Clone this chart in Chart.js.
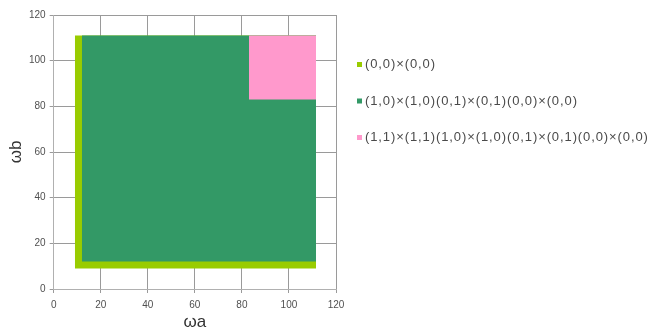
<!DOCTYPE html>
<html>
<head>
<meta charset="utf-8">
<script src="https://cdn.jsdelivr.net/npm/chart.js@4/dist/chart.umd.min.js"></script>
<style>
  html, body { margin: 0; padding: 0; background: #ffffff; }
  #wrap { width: 666px; height: 331px; }
</style>
</head>
<body>
<div id="wrap"><canvas id="c" width="666" height="331"></canvas></div>
<script>
// Region labels, colours and extents [ωa min, ωa max, ωb min, ωb max]
const regionLabels = [
  '(0,0)×(0,0)',
  '(1,0)×(1,0)(0,1)×(0,1)(0,0)×(0,0)',
  '(1,1)×(1,1)(1,0)×(1,0)(0,1)×(0,1)(0,0)×(0,0)'
];
const regionColors = ['#99cc00', '#339966', '#ff99cc'];
const xMin = [9, 12, 83];
const xMax = [111.5, 111.5, 111.5];
const yMin = [9, 12, 83];
const yMax = [111, 111, 111];

const axisMin = 0;
const axisMax = 120;
const axisStep = 20;

// Each region is a top edge filled down to its lower bound.
const datasets = regionLabels.map((label, i) => ({
  label: label,
  data: [{ x: xMin[i], y: yMax[i] }, { x: xMax[i], y: yMax[i] }],
  backgroundColor: regionColors[i],
  borderColor: regionColors[i],
  borderWidth: 0,
  pointRadius: 0,
  pointHoverRadius: 0,
  fill: { value: yMin[i] },
  tension: 0,
  order: regionLabels.length - i
}));

// Legend drawn in the right-hand margin, one row per region.
const sideLegend = {
  id: 'sideLegend',
  afterDraw(chart, args, opts) {
    const ctx = chart.ctx;
    ctx.save();
    ctx.font = opts.font;
    ctx.letterSpacing = opts.spacing;
    ctx.textBaseline = 'middle';
    ctx.textAlign = 'left';
    chart.data.datasets.forEach((ds, i) => {
      const y = opts.top + i * opts.rowGap;
      ctx.fillStyle = ds.backgroundColor;
      ctx.fillRect(opts.left, y - opts.box / 2, opts.box, opts.box);
      ctx.fillStyle = opts.color;
      ctx.fillText(ds.label, opts.left + opts.box + opts.gap, y);
    });
    ctx.restore();
  }
};

const gridColor = '#9a9a9a';
const tickFont = { family: 'Liberation Sans', size: 10 };
const titleFont = { family: 'Liberation Sans', size: 17, lineHeight: 1.0 };

new Chart(document.getElementById('c'), {
  type: 'line',
  data: { datasets: datasets },
  plugins: [sideLegend],
  options: {
    responsive: false,
    animation: false,
    layout: { padding: { top: 15, right: 330, left: 8, bottom: 0 } },
    plugins: {
      tooltip: { enabled: false },
      legend: { display: false },
      sideLegend: {
        left: 357,
        top: 64.5,
        rowGap: 36.5,
        box: 5,
        gap: 3,
        color: '#4a4a4a',
        spacing: '0.9px',
        font: '13px "Liberation Sans"'
      }
    },
    scales: {
      x: {
        type: 'linear',
        min: axisMin,
        max: axisMax,
        ticks: { stepSize: axisStep, color: '#505050', font: tickFont, padding: 6 },
        grid: { color: gridColor, tickLength: 4, lineWidth: 1 },
        border: { color: '#b0b0b0' },
        title: { display: true, text: 'ωa', color: '#333333', font: titleFont, padding: { top: -3, bottom: 0 } }
      },
      y: {
        type: 'linear',
        min: axisMin,
        max: axisMax,
        ticks: { stepSize: axisStep, color: '#505050', font: tickFont, padding: 4 },
        grid: { color: gridColor, tickLength: 4, lineWidth: 1 },
        border: { color: '#b0b0b0' },
        title: { display: true, text: 'ωb', color: '#333333', font: titleFont, padding: { top: 0, bottom: 0 } }
      }
    }
  }
});
</script>
</body>
</html>
